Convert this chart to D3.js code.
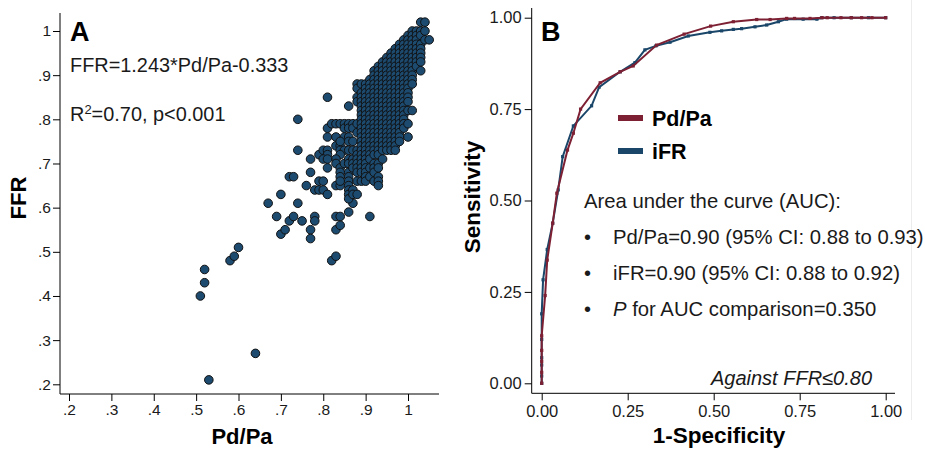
<!DOCTYPE html>
<html><head><meta charset="utf-8">
<script src="https://cdn.jsdelivr.net/npm/d3@7/dist/d3.min.js"></script>
<style>
body{margin:0;background:#fff;}
svg{display:block;font-family:"Liberation Sans",Arial,sans-serif;}
</style></head>
<body>
<svg id="chart" width="925" height="451"></svg>
<script>
// ---------- Panel A data (values in hundredths: [Pd/Pa, FFR]) ----------
const scatterSparse = [
 [51,40],[52,43],[52,46],[53,21],[64,27],[58,48],[59,49],[60,51],[67,61],[70,63],[69,58],[70,54],
 [71,55],[72,57],[73,58],[72,67],[73,67],[74,80],[74,73],[74,61],[75,57],[76,65],[77,71],[77,68],
 [77,55],[77,53],[78,64],[78,58],[78,57],[79,66],[79,64],[80,66],[80,64],[79,72],[80,73],[81,73],
 [81,72],[81,69],[81,63],[81,85],[81,78],[81,76],[82,79],[82,48],[83,49],[83,58],[83,55],[84,58],
 [84,56],[83,65],[84,65],[86,59],[86,83],[91,58],[87,61],[83,79],[84,79],[85,79],[83,76],[85,76],
 [83,74],[84,74],[84,73],[85,73],[84,72],[83,71],[83,70],[84,69],[84,68],[84,67],[80,71],[81,71],
 [85,78],[84,75],[85,70],[84,66]
];
const denseCols = [
 [86,[79,78,76,75,73,71,70,68,67,66,65,64,63,62]],
 [87,[79,78,75,73,71,70,69,64,63]],
 [88,[88,87,85,84,79,77,73,72,71,70,69,68,66,63]],
 [89,[88,86,85,84,83,82,81,80,79,78,77,76,75,74,73,72,71,70,69,68,66]],
 [90,[88,87,86,85,84,83,82,81,80,79,78,77,76,75,74,73,72,71,70,69,68,67,66]],
 [91,[89,88,87,86,85,84,83,82,81,80,79,78,77,76,75,74,73,72,71,69,67]],
 [92,[91,90,89,88,87,86,85,84,83,82,81,80,79,78,77,76,75,74,73,72,70,69,68,66]],
 [93,[92,91,90,89,88,87,86,85,84,83,82,81,80,79,78,77,76,75,74,73,72,70,69,67,66,65]],
 [94,[93,92,91,90,89,88,87,86,85,84,83,82,81,80,79,78,77,76,75,74,73,71]],
 [95,[94,93,92,91,90,89,88,87,86,85,84,83,82,81,80,79,78,77,76,75,74,73]],
 [96,[95,94,93,92,91,90,89,88,87,86,85,84,83,82,81,80,79,78,77,76,75,74,73]],
 [97,[96,95,94,93,92,91,90,89,88,87,86,85,84,83,82,81,80,79,78,77,76,75,74,73]],
 [98,[97,96,95,94,93,92,91,90,89,88,87,86,85,84,83,82,81,80,79,78,77,76,75]],
 [99,[98,97,96,95,94,93,92,91,90,89,88,87,86,85,84,83,82,81,80,79,78]],
 [100,[99,98,97,96,95,94,93,92,91,90,89,88,87,86,85,84,82,79,76]],
 [101,[100,99,98,97,96,95,94,93,92,91,90,89,88,82]],
 [102,[100,99,98,97,96,95,94,93,92]],
 [103,[102,100,99,97,96,95,94,93,91]],
 [104,[102,100,98]],
 [105,[98]]
];
const pdpaTicks = [0.2,0.3,0.4,0.5,0.6,0.7,0.8,0.9,1];
const ffrTicks  = [0.2,0.3,0.4,0.5,0.6,0.7,0.8,0.9,1];

// ---------- Panel B data (ROC curves) ----------
const pdpaFpr  = [0,0,0,0,0,0.01,0.016,0.032,0.044,0.075,0.092,0.113,0.17,0.228,0.266,0.334,0.414,0.491,0.557,0.625,0.664,0.712,0.735,0.78,0.815,0.83,0.87,0.9,0.93,0.96,1];
const pdpaSens = [0,0.03,0.06,0.09,0.13,0.24,0.337,0.438,0.52,0.638,0.684,0.75,0.822,0.852,0.868,0.925,0.955,0.977,0.989,0.995,0.995,0.998,0.998,0.998,1,1,1,1,1,1,1];
const ifrFpr   = [0,0,0,0,0,0,0.004,0.016,0.032,0.048,0.061,0.092,0.145,0.167,0.228,0.271,0.30,0.332,0.373,0.426,0.489,0.523,0.557,0.581,0.62,0.654,0.688,0.712,0.76,0.80,0.814,0.85,0.9,0.95,1];
const ifrSens  = [0,0.02,0.05,0.07,0.12,0.19,0.283,0.366,0.438,0.529,0.62,0.704,0.759,0.81,0.852,0.877,0.912,0.923,0.933,0.95,0.96,0.964,0.968,0.970,0.975,0.98,0.989,0.996,0.996,0.996,1,1,1,1,1];
const rocTicks = [0,0.25,0.5,0.75,1];

const seriesNames = ["Pd/Pa","iFR"];
const colPdpa = "#7d2033", colIfr = "#1a4669", colDot = "#1d4b70";

const svg = d3.select("#chart");
const txt = "#1a1a1a";

// ================= Panel A =================
const xA = d3.scaleLinear().domain([0.2,1]).range([69,408]);
const yA = d3.scaleLinear().domain([0.2,1]).range([384.3,31]);
const fmtA = d => d === 1 ? "1" : d3.format(".1f")(d).replace(/^0/,"");

const gA = svg.append("g");
const pts = scatterSparse.map(p => [p[0]/100, p[1]/100]);
denseCols.forEach(c => c[1].forEach(y => pts.push([c[0]/100, y/100])));
gA.append("g").selectAll("circle").data(pts).join("circle")
  .attr("cx", d => xA(d[0])).attr("cy", d => yA(d[1])).attr("r", 4.3)
  .attr("fill", colDot).attr("stroke", "#111").attr("stroke-width", 1);

const axAx = gA.append("g").attr("transform","translate(0,394)")
  .call(d3.axisBottom(xA).tickValues(pdpaTicks).tickFormat(fmtA).tickSize(7).tickPadding(3));
const axAy = gA.append("g").attr("transform","translate(60,0)")
  .call(d3.axisLeft(yA).tickValues(ffrTicks).tickFormat(fmtA).tickSize(7).tickPadding(2));
[axAx, axAy].forEach(a => {
  a.select(".domain").remove();
  a.selectAll("text").attr("font-size",15.5).attr("fill",txt).attr("font-family","Liberation Sans, Arial, sans-serif");
  a.selectAll("line").attr("stroke","#000");
});
gA.append("line").attr("x1",60).attr("x2",439).attr("y1",394).attr("y2",394).attr("stroke","#000");
gA.append("line").attr("x1",60).attr("x2",60).attr("y1",13).attr("y2",394).attr("stroke","#000");

gA.append("text").attr("x",70).attr("y",41).attr("font-size",27).attr("font-weight","bold").attr("fill","#000").text("A");
gA.append("text").attr("x",70).attr("y",72).attr("font-size",19.9).attr("fill",txt).text("FFR=1.243*Pd/Pa-0.333");
const r2 = gA.append("text").attr("x",70).attr("y",121).attr("font-size",19.9).attr("fill",txt);
r2.append("tspan").text("R");
r2.append("tspan").attr("font-size",13).attr("dy",-7.5).text("2");
r2.append("tspan").attr("dy",7.5).text("=0.70, p<0.001");

gA.append("text").attr("x",242).attr("y",444).attr("text-anchor","middle").attr("font-size",22).attr("font-weight","bold").attr("fill","#000").text("Pd/Pa");
gA.append("text").attr("transform","translate(26,198) rotate(-90)").attr("text-anchor","middle").attr("font-size",22).attr("font-weight","bold").attr("fill","#000").text("FFR");

// ================= Panel B =================
const xB = d3.scaleLinear().domain([0,1]).range([541.7,885.7]);
const yB = d3.scaleLinear().domain([0,1]).range([383.3,17.7]);
const gB = svg.append("g");

gB.append("line").attr("x1",911.5).attr("x2",911.5).attr("y1",0).attr("y2",420).attr("stroke","#ececec");

const axBx = gB.append("g").attr("transform","translate(0,393.3)")
  .call(d3.axisBottom(xB).tickValues(rocTicks).tickFormat(d3.format(".2f")).tickSize(7).tickPadding(5));
const axBy = gB.append("g").attr("transform","translate(531.7,0)")
  .call(d3.axisLeft(yB).tickValues(rocTicks).tickFormat(d3.format(".2f")).tickSize(7).tickPadding(3));
[axBx, axBy].forEach(a => {
  a.select(".domain").remove();
  a.selectAll("text").attr("font-size",16.5).attr("fill",txt).attr("font-family","Liberation Sans, Arial, sans-serif");
  a.selectAll("line").attr("stroke","#000");
});
gB.append("line").attr("x1",531.7).attr("x2",895).attr("y1",393.3).attr("y2",393.3).attr("stroke","#000");
gB.append("line").attr("x1",531.7).attr("x2",531.7).attr("y1",8).attr("y2",393.3).attr("stroke","#000");

const line = d3.line().x(d => xB(d[0])).y(d => yB(d[1]));
const curves = [
  {name: seriesNames[1], color: colIfr, data: ifrFpr.map((f,i) => [f, ifrSens[i]])},
  {name: seriesNames[0], color: colPdpa, data: pdpaFpr.map((f,i) => [f, pdpaSens[i]])}
];
curves.forEach(c => {
  gB.append("path").datum(c.data).attr("d", line).attr("fill","none")
    .attr("stroke", c.color).attr("stroke-width", 2);
  gB.append("g").selectAll("rect").data(c.data).join("rect")
    .attr("x", d => xB(d[0]) - 1.6).attr("y", d => yB(d[1]) - 1.6)
    .attr("width", 3.2).attr("height", 3.2).attr("fill", c.color);
});

gB.append("text").attr("x",541).attr("y",41).attr("font-size",27).attr("font-weight","bold").attr("fill","#000").text("B");

// legend
const leg = [{name: seriesNames[0], color: colPdpa, y: 118}, {name: seriesNames[1], color: colIfr, y: 151}];
leg.forEach(l => {
  gB.append("line").attr("x1",618).attr("x2",643).attr("y1",l.y).attr("y2",l.y).attr("stroke",l.color).attr("stroke-width",6);
  gB.append("text").attr("x",652).attr("y",l.y+7.5).attr("font-size",21.5).attr("font-weight","bold").attr("fill","#000").text(l.name);
});

gB.append("text").attr("x",584).attr("y",208).attr("font-size",20.3).attr("fill",txt).text("Area under the curve (AUC):");
const bullets = [
  {y: 243.5, parts: [["Pd/Pa=0.90 (95% CI: 0.88 to 0.93)", false]]},
  {y: 279.5, parts: [["iFR=0.90 (95% CI: 0.88 to 0.92)", false]]},
  {y: 316, parts: [["P", true], [" for AUC comparison=0.350", false]]}
];
bullets.forEach(b => {
  gB.append("text").attr("x",584).attr("y",b.y).attr("font-size",20).attr("fill",txt).text("•");
  const t = gB.append("text").attr("x",613).attr("y",b.y).attr("font-size",20.3).attr("fill",txt);
  b.parts.forEach(p => t.append("tspan").attr("font-style", p[1] ? "italic" : "normal").text(p[0]));
});
gB.append("text").attr("x",872).attr("y",385).attr("text-anchor","end").attr("font-size",20).attr("font-style","italic").attr("fill",txt).text("Against FFR≤0.80");

gB.append("text").attr("x",719).attr("y",443).attr("text-anchor","middle").attr("font-size",22.5).attr("font-weight","bold").attr("fill","#000").text("1-Specificity");
gB.append("text").attr("transform","translate(480,197) rotate(-90)").attr("text-anchor","middle").attr("font-size",22.5).attr("font-weight","bold").attr("fill","#000").text("Sensitivity");
</script>
</body></html>
